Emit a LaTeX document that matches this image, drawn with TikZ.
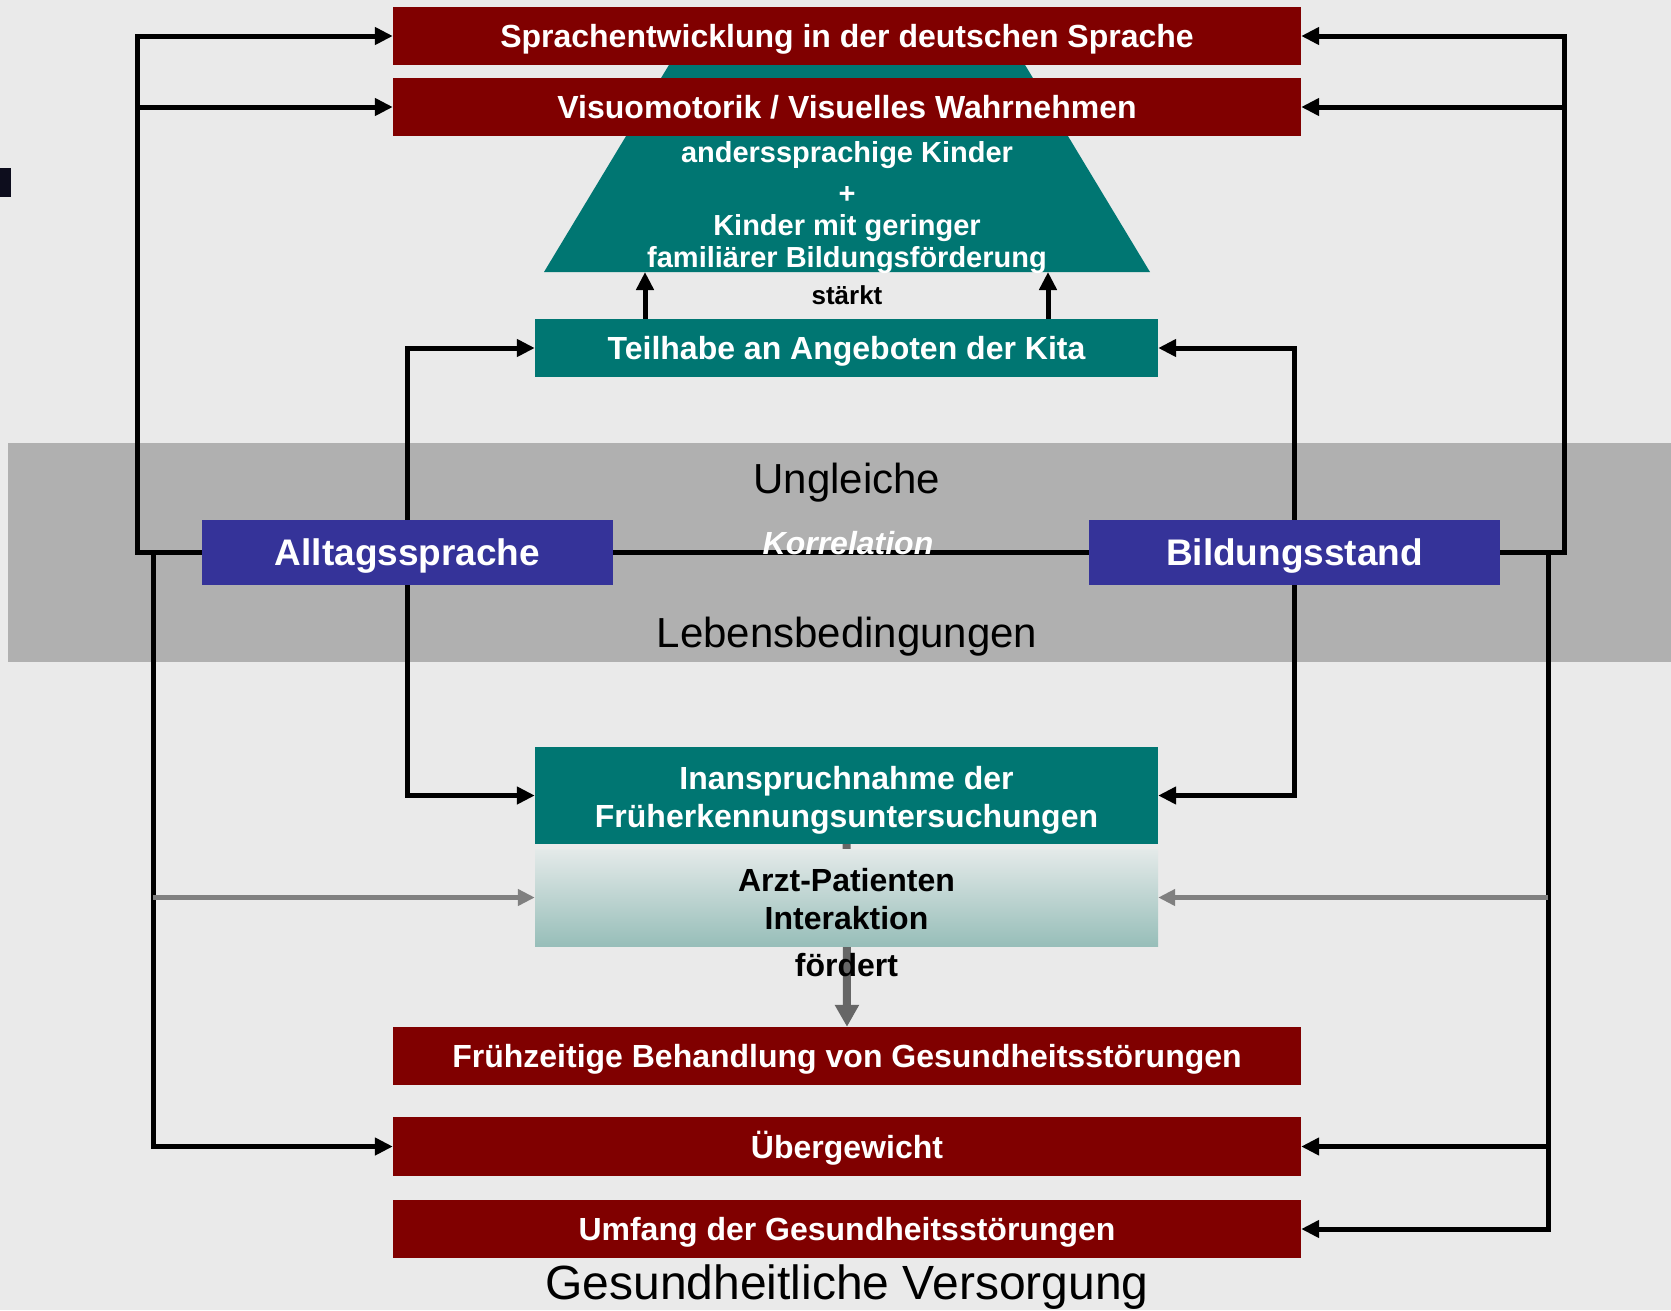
\documentclass[tikz,border=0pt]{standalone}
\usepackage{fontspec}
\setmainfont{Liberation Sans}
\usetikzlibrary{arrows.meta}
\definecolor{bgc}{HTML}{EAEAEA}
\definecolor{bandc}{HTML}{B0B0B0}
\definecolor{dred}{HTML}{800000}
\definecolor{tealc}{HTML}{007672}
\definecolor{bluec}{HTML}{353399}
\definecolor{grayarr}{HTML}{808080}
\definecolor{darkgrayarr}{HTML}{666666}
\definecolor{marknavy}{HTML}{0D0D1D}
\definecolor{gradtop}{HTML}{E4EAE9}
\definecolor{gradbot}{HTML}{97BEB9}
\begin{document}
\begin{tikzpicture}[x=1pt,y=-1pt,
  redbox/.style={fill=dred, text=white, font=\bfseries\fontsize{32}{38}\selectfont,
    minimum width=908pt, minimum height=58pt, inner sep=0pt, text height=23pt, text depth=0pt},
  tealbox/.style={fill=tealc, text=white, font=\bfseries\fontsize{32}{38}\selectfont,
    minimum width=623pt, inner sep=0pt, text height=23pt, text depth=0pt},
  bluebox/.style={fill=bluec, text=white, font=\bfseries\fontsize{37}{44}\selectfont,
    minimum width=411pt, minimum height=65pt, inner sep=0pt, text height=26.5pt, text depth=0pt},
  wtxt/.style={text=white, font=\bfseries\fontsize{29}{34}\selectfont, inner sep=0pt, anchor=base},
  btxt/.style={text=black, font=\bfseries\fontsize{32}{38}\selectfont, inner sep=0pt, anchor=base},
  bigtxt/.style={text=black, inner sep=0pt, anchor=base},
  blk/.style={draw=black, line width=5pt},
  arr/.style={-{Triangle[length=18pt,width=17pt]}},
  gry/.style={draw=grayarr, line width=4.5pt, -{Triangle[length=17pt,width=16pt]}},
  fgry/.style={draw=darkgrayarr, line width=8pt, -{Triangle[length=22pt,width=23pt]}}
]
\useasboundingbox (0,0) rectangle (1671,1310);
\fill[bgc] (0,0) rectangle (1671,1310);
% band
\fill[bandc] (8,443) rectangle (1671,662);
% small mark at left edge
\fill[marknavy] (0,168) rectangle (11,197);
% trapezoid
\fill[tealc] (544,272) -- (1150,272) -- (1010,40) -- (684,40) -- cycle;
\coordinate (T1) at (645,272);
\coordinate (T2) at (1048,272);
% guide coordinates for vertical lines
\coordinate (L1) at (137,0);
\coordinate (L2) at (153,0);
\coordinate (R1) at (1564,0);
\coordinate (R2) at (1548,0);

% nodes
\node[redbox] (box1) at (847,36) {Sprachentwicklung in der deutschen Sprache};
\node[redbox] (box2) at (847,107) {Visuomotorik / Visuelles Wahrnehmen};
\node[tealbox, minimum height=58pt] (tei) at (846.5,348) {Teilhabe an Angeboten der Kita};
\node[fill=tealc, minimum width=623pt, minimum height=97pt, inner sep=0pt] (insp) at (846.5,795.5) {};
\node[redbox] (frueh) at (847,1056) {Frühzeitige Behandlung von Gesundheitsstörungen};
\node[redbox, minimum height=59pt] (ueber) at (847,1146.5) {Übergewicht};
\node[redbox] (umf) at (847,1229) {Umfang der Gesundheitsstörungen};

% connectors
\draw[blk,arr] (202,552.5) coordinate (alw) -| (L1 |- box1.west) -- (box1.west);
\draw[blk,arr] (L1 |- box2.west) -- (box2.west);
\draw[blk,arr] (alw -| L2) |- (ueber.west);
\draw[blk,arr] (1500,552.5) coordinate (bie) -| (R1 |- box1.east) -- (box1.east);
\draw[blk,arr] (R1 |- box2.east) -- (box2.east);
\draw[blk,arr] (bie -| R2) |- (umf.east);
\draw[blk,arr] (R2 |- ueber.east) -- (ueber.east);
\draw[blk,arr] (407.5,552.5) coordinate (alc) |- (tei.west);
\draw[blk,arr] (alc) |- (insp.west);
\draw[blk,arr] (1294.5,552.5) coordinate (bic) |- (tei.east);
\draw[blk,arr] (bic) |- (insp.east);
\draw[blk] (alc) -- (bic);
\draw[blk,arr] (tei.north -| T1) -- (T1);
\draw[blk,arr] (tei.north -| T2) -- (T2);
\draw[fgry] (insp.south) -- (frueh.north);

% Arzt box on top of the grey arrow
\node[top color=gradtop, bottom color=gradbot, minimum width=623pt, minimum height=97pt, inner sep=0pt] (arzt) at (846.5,897.5) {};
\draw[gry] (L2 |- arzt.west) -- (arzt.west);
\draw[gry] (R2 |- arzt.east) -- (arzt.east);

% blue boxes on top of the lines
\node[bluebox] (allt) at (alc) {Alltagssprache};
\node[bluebox] (bild) at (bic) {Bildungsstand};

% texts
\node[wtxt] (t1) at (847,162) {anderssprachige Kinder};
\node[wtxt] (t2) at (847,203) {+};
\node[wtxt] (t3) at (847,235) {Kinder mit geringer};
\node[wtxt] (t4) at (847,267) {familiärer Bildungsförderung};
\node[btxt, font=\bfseries\fontsize{26}{30}\selectfont] (staerkt) at (847,304) {stärkt};
\node[btxt, text=white] (i1) at (846.5,789) {Inanspruchnahme der};
\node[btxt, text=white] (i2) at (846.5,827) {Früherkennungsuntersuchungen};
\node[btxt] (a1) at (846.5,891) {Arzt-Patienten};
\node[btxt] (a2) at (846.5,929) {Interaktion};
\node[btxt] (foerd) at (846.5,976) {fördert};
\node[bigtxt, font=\fontsize{42}{48}\selectfont] (ungl) at (847,493) {Ungleiche};
\node[bigtxt, font=\fontsize{42}{48}\selectfont] (leb) at (847,647) {Lebensbedingungen};
\node[text=white, inner sep=0pt, anchor=base, font=\bfseries\itshape\fontsize{32}{38}\selectfont] (korr) at (848,554) {Korrelation};
\node[bigtxt, font=\fontsize{48}{56}\selectfont] (gv) at (847,1299) {Gesundheitliche Versorgung};
\end{tikzpicture}
\end{document}
